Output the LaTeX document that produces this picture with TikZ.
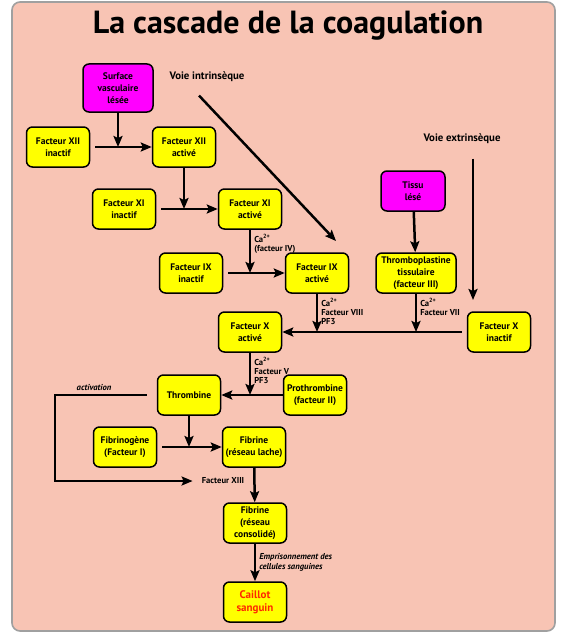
\documentclass[tikz,border=0pt]{standalone}
\usepackage{fontspec}
\setmainfont{PT Sans}
\usetikzlibrary{arrows.meta,positioning}
\definecolor{saumon}{RGB}{248,196,180}
\definecolor{cadre}{RGB}{160,160,160}
\definecolor{jaune}{RGB}{255,255,0}
\definecolor{rose}{RGB}{255,0,255}
\definecolor{rouge}{RGB}{255,40,0}
\begin{document}
\begin{tikzpicture}[x=1pt, y=-1pt, ->, >={Stealth[length=11pt,width=9pt,inset=2pt]}, line width=2.5pt, node distance=126pt,
    main node/.style={draw, fill=jaune, rounded corners=6pt, line width=1.5pt, minimum width=63pt, minimum height=40pt, inner sep=1pt, align=center, font=\fontsize{9.5}{11.8}\selectfont\bfseries},
    site node/.style={main node, fill=rose},
    note/.style={inner sep=0pt, align=left, font=\fontsize{8.6}{9}\selectfont\bfseries}]
        \tikzstyle{every node}=[font=\fontsize{10.8}{12}\selectfont\bfseries]

        % fond
        \useasboundingbox (0,0) rectangle (560,634);
        \path[-, fill=saumon, draw=cadre, line width=1.6pt, rounded corners=8pt] (12,2) rectangle (555,631);

        \node (titre) at (288,26) {\fontsize{32}{38}\selectfont La cascade de la coagulation};

          % voie intrinseque
          \node[site node, minimum width=70pt, minimum height=48pt] (surf) at (118,88) {Surface\\vasculaire\\lésée};
          \node[] (vint) at (207,77) {Voie intrinsèque};
          \node[main node] (xii0) at (58,147) {Facteur XII\\inactif};
          \node[main node] (xii1) [right of=xii0] {Facteur XII\\activé};
          \node[main node] (xi0) at (124,209) {Facteur XI\\inactif};
          \node[main node] (xi1) [right of=xi0] {Facteur XI\\activé};
          \node[main node] (ix0) at (191,273) {Facteur IX\\inactif};
          \node[main node] (ix1) [right of=ix0] {Facteur IX\\activé};

          % voie extrinseque
          \node[] (vext) at (462,139) {Voie extrinsèque};
          \node[site node, minimum width=64pt] (tissu) at (413,191) {Tissu\\lésé};
          \node[main node, minimum width=80pt] (thp) at (416,273) {Thromboplastine\\tissulaire\\(facteur III)};
          \node[main node] (x0) at (499,332) {Facteur X\\inactif};

          % voie commune
          \node[main node] (x1) at (250,332) {Facteur X\\activé};
          \node[main node] (thr) at (189,395) {Thrombine};
          \node[main node] (pro) [right of=thr] {Prothrombine\\(facteur II)};
          \node[main node] (fgn) at (125,447) {Fibrinogène\\(Facteur I)};
          \node[main node] (fl) at (254,447) {Fibrine\\(réseau lache)};
          \node[main node] (fc) at (255,523) {Fibrine\\(réseau\\consolidé)};
          \node[main node, text=rouge, font=\fontsize{11}{13}\selectfont\bfseries] (caillot) at (255,602) {Caillot\\sanguin};
          \node[note] (fxiii) at (223,481) {Facteur XIII};
          \node[note, font=\fontsize{8.6}{9}\selectfont\bfseries\itshape] (act) at (94,387) {activation};

          \coordinate (vintend) at (336,241);
          \coordinate (vextend) at (473,300);

          \draw ([xshift=-8pt,yshift=-9pt]vint.south) -- (vintend);
          \draw ([xshift=11pt,yshift=-10pt]vext.south) -- (vextend);
          \draw[shorten <=10pt, shorten >=8pt] (thr.west) -- ++(-102,0) |- (fxiii.west);

          \path[every node/.style={note, anchor=north west, pos=0, xshift=3pt, yshift=-3pt}]
            (surf) edge (surf |- xii1)
            (xii0) edge[shorten <=5pt] (xii1)
            (xii1) edge (xii1 |- xi1)
            (xi0) edge[shorten <=5pt] (xi1)
            (xi1) edge node {Ca\textsuperscript{2+}\\(facteur IV)} (xi1 |- ix1)
            (ix0) edge[shorten <=5pt] (ix1)
            (ix1) edge node {Ca\textsuperscript{2+}\\Facteur VIII\\PF3} (ix1 |- x1)
            (tissu) edge (thp)
            (thp) edge node {Ca\textsuperscript{2+}\\Facteur VII} (thp |- x1)
            (x0) edge[shorten <=5pt] (x1)
            (x1) edge node {Ca\textsuperscript{2+}\\Facteur V\\PF3} (x1 |- thr)
            (pro) edge (thr)
            (thr) edge (thr |- fl)
            (fgn) edge[shorten <=5pt] (fl)
            (fl) edge (fc)
            (fc) edge node[font=\fontsize{8.6}{10}\selectfont\bfseries\itshape, yshift=-5pt] {Emprisonnement des\\cellules sanguines} (caillot);

        \end{tikzpicture}
\end{document}
